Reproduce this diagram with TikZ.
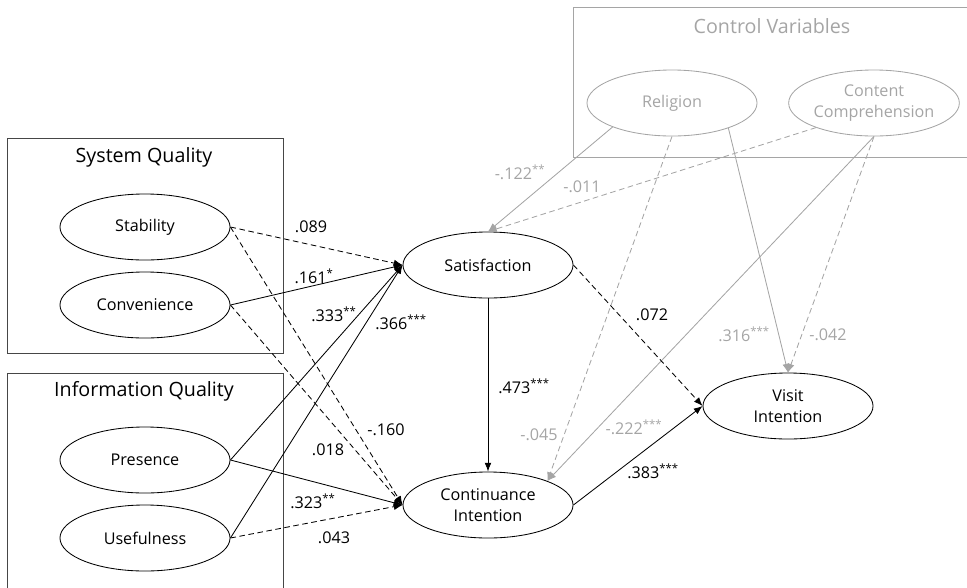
\documentclass[tikz,border=0pt]{standalone}
\usepackage{fontspec}
\setmainfont{Open Sans}
\usetikzlibrary{shapes.geometric,arrows.meta}
\definecolor{ctrlgray}{RGB}{165,165,165}
\definecolor{boxgray}{RGB}{70,70,70}
\newcommand{\sig}[1]{\textsuperscript{#1}}
\tikzset{
  every picture/.style={
    line width=0.6pt
  },
  construct/.style={ellipse, draw, minimum width=4.25cm, minimum height=1.65cm,
    inner sep=0pt, align=center, font=\fontsize{11.5}{15}\selectfont},
  control/.style={construct, draw=ctrlgray, text=ctrlgray},
  grouptitle/.style={font=\fontsize{14}{16}\selectfont},
  coef/.style={font=\fontsize{11.5}{14}\selectfont, inner sep=1pt},
  effect/.style={-{Latex[length=2.2mm,width=1.7mm]}},
  ns/.style={dash pattern=on 4pt off 2.5pt},
  ctrl/.style={effect, ctrlgray},
}

\begin{document}
\begin{tikzpicture}[x=0.025cm, y=-0.025cm]
  \useasboundingbox (0,0) rectangle (967,587);

  % groups
  \draw[boxgray] (7,138) rectangle (283,353);
  \draw[boxgray] (7,373) rectangle (283,592);
  \draw[ctrlgray] (573,7) rectangle (972,157);
  \node[grouptitle] (sqtitle) at (144,157) {System Quality};
  \node[grouptitle] (iqtitle) at (144,391) {Information Quality};
  \node[grouptitle, text=ctrlgray] (cvtitle) at (772,26) {Control Variables};

  % constructs
  \node[construct] (stab) at (145,227) {Stability};
  \node[construct] (conv) at (145,305) {Convenience};
  \node[construct] (pres) at (145,460) {Presence};
  \node[construct] (useful) at (145,538) {Usefulness};
  \node[construct] (sat) at (488,265) {Satisfaction};
  \node[construct] (cont) at (488,505) {Continuance\\Intention};
  \node[construct] (visit) at (788,406) {Visit\\Intention};
  \node[control] (rel) at (672,103) {Religion};
  \node[control] (comp) at (874,103) {Content\\Comprehension};

  % control paths
  \draw[ctrl] (rel.-158) -- (sat.north);
  \draw[ctrl, ns] (comp.-157) -- (sat.north);
  \draw[ctrl, ns] (rel.south) -- (cont.22);
  \draw[ctrl] (rel.-24) -- (visit.north);
  \draw[ctrl] (comp.south) -- (cont.22);
  \draw[ctrl, ns] (comp.south) -- (visit.north);

  % structural paths
  \draw[effect, ns] (stab.east) -- (sat.west);
  \draw[effect] (conv.east) -- (sat.west);
  \draw[effect] (pres.east) -- (sat.west);
  \draw[effect] (useful.east) -- (sat.west);
  \draw[effect, ns] (stab.east) -- (cont.west);
  \draw[effect, ns] (conv.east) -- (cont.west);
  \draw[effect] (pres.east) -- (cont.west);
  \draw[effect, ns] (useful.east) -- (cont.west);
  \draw[effect] (sat.south) -- (cont.north);
  \draw[effect, ns] (sat.east) -- (visit.west);
  \draw[effect] (cont.east) -- (visit.west);

  % coefficients
  \node[coef] (c1) at (311,227) {.089};
  \node[coef] (c2) at (314,276) {.161\sig{*}};
  \node[coef] (c3) at (334,314) {.333\sig{**}};
  \node[coef] (c4) at (401,322) {.366\sig{***}};
  \node[coef] (c5) at (386,430) {-.160};
  \node[coef] (c6) at (328,450) {.018};
  \node[coef] (c7) at (313,501) {.323\sig{**}};
  \node[coef] (c8) at (334,538) {.043};
  \node[coef] (c9) at (524,386) {.473\sig{***}};
  \node[coef] (c10) at (653,471) {.383\sig{***}};
  \node[coef] (c11) at (652,315) {.072};
  \node[coef, text=ctrlgray] (c12) at (520,172) {-.122\sig{**}};
  \node[coef, text=ctrlgray] (c13) at (582,187) {-.011};
  \node[coef, text=ctrlgray] (c14) at (539,435) {-.045};
  \node[coef, text=ctrlgray] (c15) at (634,427) {-.222\sig{***}};
  \node[coef, text=ctrlgray] (c16) at (744,334) {.316\sig{***}};
  \node[coef, text=ctrlgray] (c17) at (828,335) {-.042};
\end{tikzpicture}
\end{document}
